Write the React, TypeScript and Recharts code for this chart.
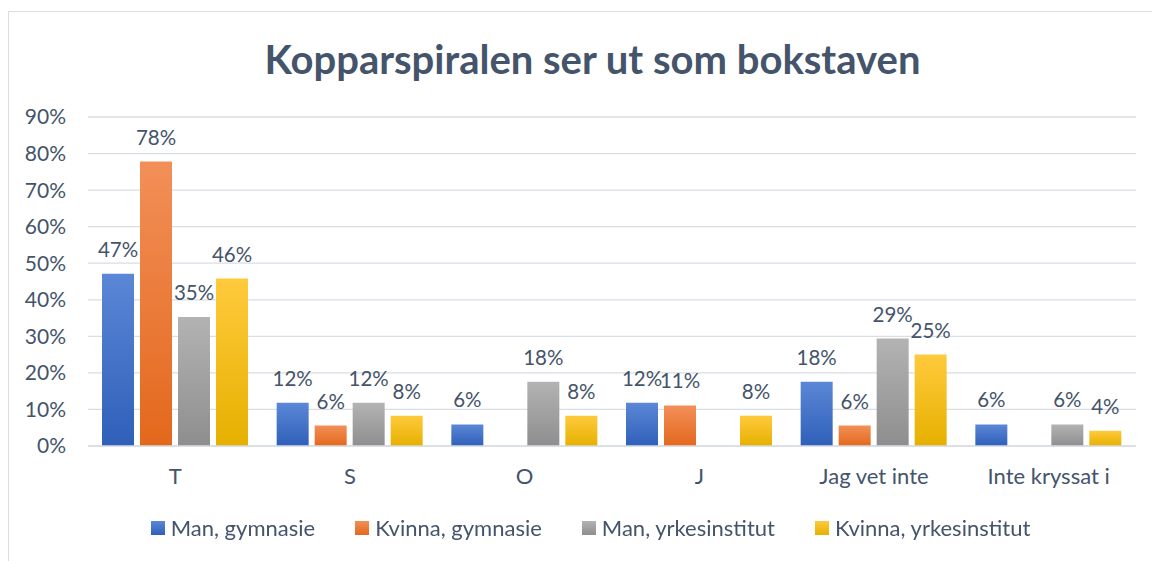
import React from 'react';
import { BarChart, Bar, XAxis, YAxis, CartesianGrid, LabelList } from 'recharts';

const categories = ['T', 'S', 'O', 'J', 'Jag vet inte', 'Inte kryssat i'];
const seriesNames = ['Man, gymnasie', 'Kvinna, gymnasie', 'Man, yrkesinstitut', 'Kvinna, yrkesinstitut'];
const manGymnasie = [47.1, 11.8, 5.9, 11.8, 17.6, 5.9];
const kvinnaGymnasie = [77.8, 5.6, null, 11.1, 5.6, null];
const manYrke = [35.3, 11.8, 17.6, null, 29.4, 5.9];
const kvinnaYrke = [45.8, 8.3, 8.3, 8.3, 25.0, 4.2];
const yTicks = [0, 10, 20, 30, 40, 50, 60, 70, 80, 90];

// top / bottom colours of each bar gradient
const gradients = [
  ['#5b87d6', '#2f5fb9'],
  ['#f28f58', '#e3681c'],
  ['#b3b3b3', '#8e8e8e'],
  ['#ffca3c', '#e6b000'],
];

const data = categories.map((name, i) => ({
  name,
  s0: manGymnasie[i],
  s1: kvinnaGymnasie[i],
  s2: manYrke[i],
  s3: kvinnaYrke[i],
}));

const FONT = 'Lato, "Open Sans", sans-serif';
const TEXT = '#44546a';

export default function App() {
  return (
    <div
      style={{
        position: 'fixed',
        left: 8,
        top: 11,
        width: 1144,
        height: 550,
        borderLeft: '1px solid #d9dde4',
        borderTop: '1px solid #d9dde4',
        background: '#fff',
        fontFamily: FONT,
      }}
    >
      <div
        style={{
          position: 'absolute',
          top: 25,
          left: 12,
          width: 1143,
          textAlign: 'center',
          fontSize: 40,
          fontWeight: 700,
          color: TEXT,
          lineHeight: '44px',
        }}
      >
        Kopparspiralen ser ut som bokstaven
      </div>

      <BarChart
        width={1143}
        height={549}
        data={data}
        margin={{ top: 105, right: 16, left: 0, bottom: 0 }}
        barSize={32}
        barGap={6}
        style={{ fontFamily: FONT }}
      >
        <defs>
          {gradients.map(([a, b], i) => (
            <linearGradient key={i} id={`g${i}`} x1="0" y1="0" x2="0" y2="1">
              <stop offset="0%" stopColor={a} />
              <stop offset="100%" stopColor={b} />
            </linearGradient>
          ))}
        </defs>
        <CartesianGrid vertical={false} stroke="#d9dde4" strokeWidth={1.3} />
        <XAxis
          dataKey="name"
          height={115}
          tickLine={false}
          tickSize={0}
          tickMargin={22}
          axisLine={{ stroke: '#d9dde4', strokeWidth: 1.3 }}
          tick={{ fill: TEXT, fontSize: 22 }}
        />
        <YAxis
          width={79}
          domain={[0, 90]}
          ticks={yTicks}
          interval={0}
          tickLine={false}
          axisLine={false}
          tickSize={0}
          tickMargin={22}
          tickFormatter={(v: number) => `${v}%`}
          tick={{ fill: TEXT, fontSize: 21 }}
        />
        {seriesNames.map((n, i) => (
          <Bar key={n} dataKey={`s${i}`} name={n} fill={`url(#g${i})`} isAnimationActive={false}>
            <LabelList
              dataKey={`s${i}`}
              position="top"
              offset={17}
              fill={TEXT}
              fontSize={20.5}
              formatter={(v: any) => (v == null ? '' : `${Math.round(v)}%`)}
            />
          </Bar>
        ))}
      </BarChart>

      <div
        style={{
          position: 'absolute',
          top: 502,
          left: 0,
          width: 1163,
          display: 'flex',
          justifyContent: 'center',
          gap: 40,
          fontSize: 22,
          color: TEXT,
          lineHeight: '28px',
        }}
      >
        {seriesNames.map((n, i) => (
          <div key={n} style={{ display: 'flex', alignItems: 'center' }}>
            <span
              style={{
                display: 'inline-block',
                width: 14,
                height: 14,
                marginRight: 6,
                background: `linear-gradient(${gradients[i][0]}, ${gradients[i][1]})`,
              }}
            />
            {n}
          </div>
        ))}
      </div>
    </div>
  );
}
